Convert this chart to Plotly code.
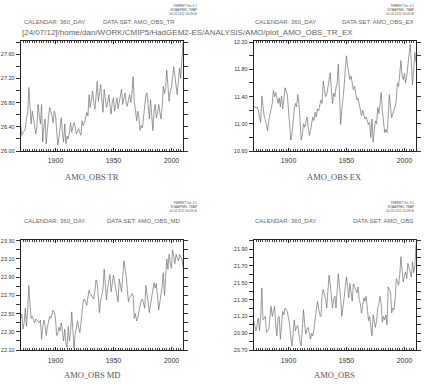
import plotly.graph_objects as go

years = list(range(1870, 2011))

amo_tr = [26.42, 26.26, 26.30, 26.34, 26.37, 26.55, 26.62, 27.05, 26.70, 26.45,
          26.66, 26.50, 26.34, 26.28, 26.40, 26.77, 26.60, 26.45, 26.77, 26.15,
          26.40, 26.53, 26.12, 26.38, 26.55, 26.72, 26.66, 26.58, 26.47, 26.66,
          26.60, 26.35, 26.10, 26.22, 26.37, 26.55, 26.30, 26.15, 26.45, 26.12,
          26.25, 26.20, 26.30, 26.47, 26.31, 26.38, 26.47, 26.40, 26.28, 26.33,
          26.37, 26.30, 26.26, 26.50, 26.42, 26.47, 26.55, 26.64, 26.58, 26.93,
          26.72, 26.85, 26.99, 26.80, 26.69, 26.90, 27.15, 26.82, 26.95, 27.10,
          26.85, 26.64, 27.02, 26.85, 26.72, 26.80, 26.93, 26.75, 26.61, 26.80,
          26.88, 26.66, 26.75, 26.88, 26.70, 26.82, 26.90, 27.02, 26.77, 26.85,
          26.96, 26.80, 26.74, 26.85, 26.93, 26.80, 26.95, 27.23, 26.80, 26.68,
          26.50, 26.66, 26.55, 26.34, 26.42, 26.38, 26.58, 26.75, 26.93, 26.96,
          26.70, 26.53, 26.85, 26.60, 26.34, 26.65, 26.77, 26.55, 26.62, 26.77,
          26.60, 26.53, 26.72, 27.07, 26.95, 27.05, 27.34, 27.10, 26.82, 26.99,
          27.05, 27.21, 27.39, 27.25, 27.12, 26.93, 27.15, 27.37, 27.20, 27.45,
          27.79]

amo_ex = [11.27, 11.24, 11.23, 11.25, 11.20, 11.10, 11.02, 11.41, 11.20, 11.12,
          11.06, 11.00, 10.90, 11.05, 11.15, 11.22, 11.30, 11.49, 11.40, 11.46,
          11.35, 11.30, 11.38, 11.25, 11.41, 11.22, 11.35, 11.53, 11.48, 11.43,
          11.20, 11.00, 10.76, 10.85, 11.05, 11.22, 11.30, 11.25, 11.43, 11.30,
          11.05, 10.76, 10.85, 11.00, 10.95, 11.05, 11.10, 10.95, 10.83, 10.90,
          10.99, 11.10, 11.05, 11.17, 11.10, 11.22, 11.19, 11.25, 11.35, 11.30,
          11.63, 11.50, 11.40, 11.43, 11.55, 11.60, 11.75, 11.50, 11.30, 11.45,
          11.40, 11.53, 11.60, 11.88, 11.45, 10.99, 11.20, 11.36, 11.55, 11.80,
          12.00, 11.85, 11.74, 11.65, 11.70, 11.60, 11.50, 11.55, 11.43, 11.35,
          11.38, 11.30, 11.25, 11.12, 11.20, 11.15, 11.07, 11.10, 11.05, 10.99,
          11.02, 10.80, 11.07, 10.73, 10.90, 11.04, 11.00, 11.24, 11.15, 11.30,
          11.46, 11.19, 11.00, 10.87, 10.92, 10.87, 11.10, 11.43, 11.25, 11.09,
          11.15, 11.19, 11.25, 11.35, 11.60, 11.55, 11.74, 11.93, 11.70, 11.65,
          11.74, 11.60, 11.70, 11.83, 12.00, 12.17, 11.90, 11.57, 11.80, 12.05,
          11.90]

amo_md = [22.45, 22.50, 22.33, 22.40, 22.56, 22.36, 22.55, 22.81, 22.60, 22.45,
          22.47, 22.43, 22.40, 22.44, 22.43, 22.42, 22.40, 22.43, 22.22, 22.35,
          22.43, 22.38, 22.26, 22.35, 22.42, 22.47, 22.45, 22.50, 22.54, 22.51,
          22.45, 22.26, 22.28, 22.35, 22.31, 22.40, 22.30, 22.20, 22.33, 22.18,
          22.13, 22.36, 22.20, 22.30, 22.52, 22.30, 22.12, 22.27, 22.35, 22.42,
          22.35, 22.29, 22.40, 22.55, 22.65, 22.66, 22.62, 22.59, 22.68, 22.76,
          22.72, 22.70, 22.68, 22.66, 22.75, 22.87, 22.83, 22.70, 22.51, 22.65,
          22.72, 22.77, 22.99, 22.85, 22.65, 22.78, 22.85, 22.93, 22.74, 22.85,
          22.92, 22.85, 22.76, 22.70, 22.63, 22.88, 22.80, 22.74, 22.90, 23.08,
          23.00, 22.92, 22.75, 22.63, 22.68, 22.69, 22.72, 22.70, 22.45, 22.50,
          22.42, 22.45, 22.52, 22.60, 22.65, 22.66, 22.62, 22.56, 22.81, 22.70,
          22.62, 22.51, 22.60, 22.69, 22.75, 22.84, 22.78, 22.83, 22.70, 22.54,
          22.62, 22.70, 22.80, 22.95, 22.70, 22.90, 23.10, 22.99, 23.15, 23.06,
          23.00, 23.20, 23.12, 23.05, 23.15, 23.12, 23.08, 23.15, 23.12, 23.10,
          23.01]

amo_obs = [21.05, 20.97, 20.93, 21.00, 21.08, 20.93, 21.10, 21.44, 21.06, 21.08,
           21.10, 20.91, 20.93, 20.95, 21.10, 21.22, 21.10, 21.15, 21.22, 21.00,
           20.87, 21.08, 21.10, 20.83, 21.00, 21.16, 21.12, 21.20, 21.18, 21.16,
           21.08, 21.00, 20.85, 20.75, 20.90, 21.06, 20.93, 20.98, 20.99, 20.85,
           20.80, 20.75, 20.95, 21.18, 21.00, 20.89, 20.95, 20.97, 20.90, 20.83,
           20.90, 20.87, 20.95, 21.05, 21.15, 21.28, 21.20, 21.12, 21.10, 21.35,
           21.42, 21.36, 21.30, 21.20, 21.35, 21.59, 21.49, 21.35, 21.20, 21.30,
           21.34, 21.20, 21.40, 21.61, 21.45, 21.32, 21.10, 21.25, 21.32, 21.45,
           21.57, 21.45, 21.32, 21.49, 21.40, 21.28, 21.49, 21.45, 21.41, 21.38,
           21.45, 21.30, 21.25, 21.14, 21.22, 21.32, 21.28, 21.34, 21.20, 21.05,
           21.10, 20.95, 20.87, 21.12, 21.05, 20.97, 21.05, 21.20, 21.25, 21.34,
           21.25, 21.03, 21.10, 21.06, 21.12, 21.00, 21.45, 21.42, 21.39, 21.14,
           21.20, 21.18, 21.30, 21.55, 21.50, 21.47, 21.60, 21.81, 21.65, 21.51,
           21.58, 21.63, 21.55, 21.73, 21.68, 21.60, 21.57, 21.75, 21.62, 21.70,
           21.95]

x_ticks = [1900, 1950, 2000]

panels = [
    dict(name="AMO_OBS TR", dataset="AMO_OBS_TR", y=amo_tr, yr=[26.00, 27.81], dt=0.4, mdt=0.2, t0=26.0,
         box=(20.7, 183.0, 40.0, 151.0), col="left", row="top"),
    dict(name="AMO_OBS EX", dataset="AMO_OBS_EX", y=amo_ex, yr=[10.60, 12.21], dt=0.4, mdt=0.2, t0=10.6,
         box=(253.7, 416.0, 40.0, 151.0), col="right", row="top"),
    dict(name="AMO_OBS MD", dataset="AMO_OBS_MD", y=amo_md, yr=[22.10, 23.31], dt=0.2, mdt=0.1, t0=22.1,
         box=(20.7, 183.0, 241.0, 352.7), col="left", row="bottom"),
    dict(name="AMO_OBS", dataset="AMO_OBS", y=amo_obs, yr=[20.70, 22.01], dt=0.2, mdt=0.1, t0=20.7,
         box=(253.7, 416.0, 241.0, 352.7), col="right", row="bottom"),
]

W, H = 432, 384
def px(x):
    return x / W
def py(y):
    return 1 - y / H

fig = go.Figure()
annotations = []
sans = "Liberation Sans"
serif = "Liberation Serif"

for i, p in enumerate(panels):
    n = "" if i == 0 else str(i + 1)
    x0, x1, y0, y1 = p["box"]
    fig.add_trace(go.Scatter(x=years, y=p["y"], mode="lines",
                             line=dict(color="#707070", width=0.7),
                             xaxis="x" + n, yaxis="y" + n, showlegend=False,
                             hoverinfo="skip"))
    fig.layout["xaxis" + n] = dict(
        domain=[px(x0), px(x1)], anchor="y" + n, range=[1870, 2010],
        tickvals=x_ticks, ticktext=[str(v) for v in x_ticks],
        ticks="inside", ticklen=3, tickcolor="#222", mirror="allticks",
        showline=True, linecolor="#222", linewidth=1, showgrid=False, zeroline=False,
        tickfont=dict(family=sans, size=7, color="#333"), ticklabelstandoff=3,
        minor=dict(dtick=2, tick0=1870, ticks="inside", ticklen=2, tickcolor="#444", showgrid=False),
    )
    fig.layout["yaxis" + n] = dict(
        domain=[py(y1), py(y0)], anchor="x" + n, range=p["yr"],
        tick0=p["t0"], dtick=p["dt"], tickformat=".2f",
        ticks="outside", ticklen=4, tickcolor="#333", mirror="allticks",
        showline=True, linecolor="#222", linewidth=1, showgrid=False, zeroline=False,
        tickfont=dict(family=sans, size=5.5, color="#333"),
        minor=dict(dtick=p["mdt"], ticks="outside", ticklen=4, tickcolor="#333", showgrid=False),
    )
    right_txt = 199 if p["col"] == "left" else 416
    top_txt = 0 if p["row"] == "top" else 200
    lab_y = 20 if p["row"] == "top" else 222
    annotations.append(dict(x=px(right_txt), y=py(top_txt), xref="paper", yref="paper",
                            xanchor="right", yanchor="top", showarrow=False, align="right",
                            text="FERRET Ver. 6.1<br>NOAA/PMEL TMAP<br>Jul 24 2012 16:09:06",
                            font=dict(family=sans, size=3, color="#555")))
    annotations.append(dict(x=px(x0 + 1 if p["col"] == "left" else x0 - 0.5), y=py(lab_y), xref="paper", yref="paper",
                            xanchor="left", yanchor="middle", showarrow=False,
                            text="CALENDAR: 360_DAY",
                            font=dict(family=sans, size=6, color="#666")))
    ds_right = 177 if i == 0 else (415 if p["col"] == "right" else 182)
    annotations.append(dict(x=px(ds_right), y=py(lab_y), xref="paper", yref="paper",
                            xanchor="right", yanchor="middle", showarrow=False,
                            text="DATA SET: " + p["dataset"],
                            font=dict(family=sans, size=6, color="#666")))
    title_x = 92 if p["col"] == "left" else 334
    title_y = 177 if p["row"] == "top" else 378
    annotations.append(dict(x=px(title_x), y=py(title_y), xref="paper", yref="paper",
                            xanchor="center", yanchor="middle", showarrow=False,
                            text=p["name"],
                            font=dict(family=serif, size=8.5, color="#555")))

fig.update_layout(width=W, height=H, margin=dict(l=0, r=0, t=0, b=0),
                  paper_bgcolor="white", plot_bgcolor="white",
                  annotations=annotations,
                  title=dict(text="[24/07/12]/home/dan/WORK/CMIP5/HadGEM2-ES/ANALYSIS/AMO/plot_AMO_OBS_TR_EX",
                             x=px(22), xanchor="left", xref="paper",
                             y=py(32), yanchor="middle", yref="container",
                             font=dict(family=sans, size=8, color="#666")))

fig.write_html("out.html", config={"displayModeBar": False},
               post_script="document.body.style.margin='0';document.body.style.overflow='hidden';")
